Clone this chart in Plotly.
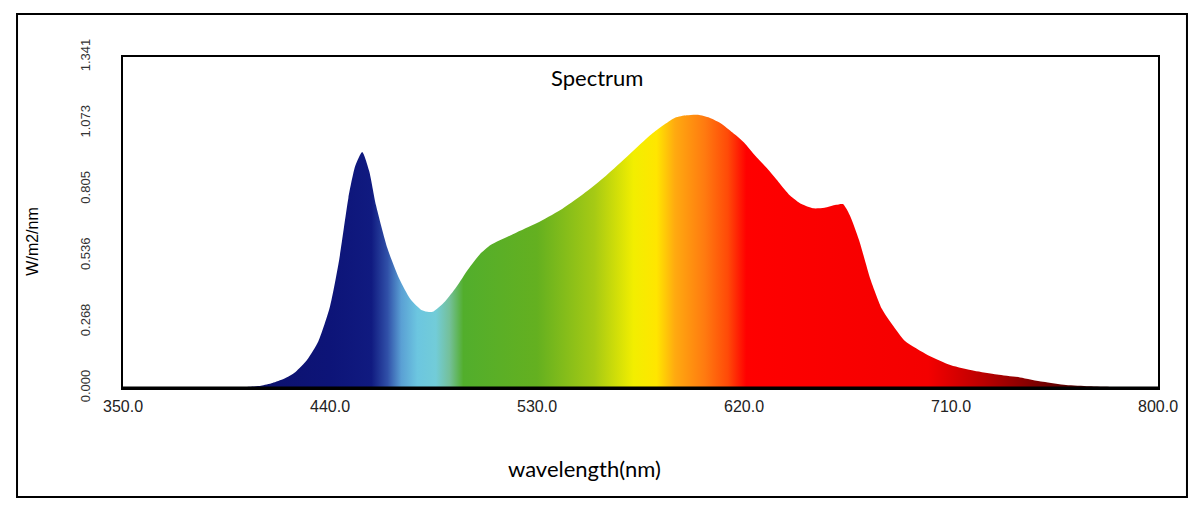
import plotly.graph_objects as go

# Spectrum data
wavelength = [350, 380, 400, 405, 410, 415, 420, 425, 430, 435, 440, 444, 448, 451, 454,
              457, 460, 465, 470, 475, 480, 483, 485, 490, 495, 500, 505, 510, 520, 530,
              540, 550, 560, 570, 580, 590, 595, 600, 605, 610, 615, 620, 625, 630, 635,
              640, 645, 650, 655, 660, 663, 666, 670, 675, 680, 685, 690, 700, 710, 720,
              730, 740, 750, 760, 770, 780, 790, 800]
irradiance = [0.0, 0.0, 0.002, 0.005, 0.009, 0.02, 0.037, 0.065, 0.113, 0.19, 0.33, 0.52, 0.77, 0.90, 0.956,
              0.88, 0.74, 0.565, 0.445, 0.36, 0.315, 0.308, 0.31, 0.35, 0.41, 0.48, 0.54, 0.58, 0.625, 0.668,
              0.72, 0.785, 0.86, 0.945, 1.03, 1.095, 1.105, 1.107, 1.095, 1.072, 1.035, 0.995, 0.94, 0.89, 0.835,
              0.78, 0.745, 0.728, 0.730, 0.742, 0.745, 0.70, 0.60, 0.44, 0.32, 0.25, 0.19, 0.133, 0.092, 0.07,
              0.055, 0.043, 0.025, 0.012, 0.007, 0.004, 0.002, 0.001]

# colour of the fill at given wavelengths
color_wl = [350, 440, 458, 465, 471, 478, 486, 492, 498, 530, 555, 572, 582, 590, 603, 613, 621, 700, 725, 760, 800]
color_hex = ["#0c0c5a", "#0d1478", "#101a80", "#3050a8", "#5aa0d4", "#6cc6e0", "#72ccd8", "#74c09a",
             "#52ae2c", "#64b020", "#a6ca14", "#f2ee00", "#ffe600", "#ffaa10", "#ff7a10", "#ff4a08",
             "#ff0000", "#f40000", "#b80000", "#5a0000", "#200000"]

y_ticks = [0.0, 0.268, 0.536, 0.805, 1.073, 1.341]
x_ticks = [350, 440, 530, 620, 710, 800]

lo, hi = wavelength[0], wavelength[-1]
colorscale = [[(w - lo) / (hi - lo), c] for w, c in zip(color_wl, color_hex)]

fig = go.Figure()
fig.add_trace(go.Scatter(x=wavelength, y=irradiance, mode="lines",
                         line=dict(width=0, color="rgba(0,0,0,0)", shape="spline", smoothing=0.6),
                         fill="tozeroy",
                         fillgradient=dict(type="horizontal", colorscale=colorscale, start=lo, stop=hi),
                         showlegend=False, hoverinfo="x+y"))

fig.update_xaxes(range=[350, 800], tickvals=x_ticks, ticktext=[f"{v:.1f}" for v in x_ticks],
                 showgrid=False, zeroline=False, showline=True, mirror=True,
                 linecolor="black", linewidth=2, ticks="", ticklabelstandoff=3,
                 tickfont=dict(family="Liberation Sans", size=16, color="#222"))
fig.update_yaxes(range=[0, 1.341], tickvals=y_ticks, ticktext=[f"{v:.3f}" for v in y_ticks],
                 tickangle=-90, showgrid=False, zeroline=False, showline=True, mirror=True,
                 linecolor="black", linewidth=2, ticks="", ticklabelstandoff=26,
                 tickfont=dict(family="Liberation Sans", size=13, color="#333"))

# page body has an 8px margin, so the figure is kept 8px smaller than the window
fig.update_layout(width=1193, height=506, margin=dict(l=115, r=43, t=49, b=126),
                  plot_bgcolor="white", paper_bgcolor="white")

# outer frame round the whole picture
fig.add_shape(type="rect", xref="paper", yref="paper", x0=-0.1024, x1=1.028, y0=-0.329, y1=1.130,
              line=dict(color="black", width=2), fillcolor="rgba(0,0,0,0)", layer="below")
# thicker bottom axis
fig.add_shape(type="line", xref="paper", yref="paper", x0=0, x1=1, y0=0, y1=0,
              line=dict(color="black", width=3))

fig.add_annotation(text="Spectrum", xref="paper", yref="paper", x=0.458, y=0.937,
                   xanchor="center", yanchor="middle",
                   showarrow=False, font=dict(family="Lato", size=22, color="black"))
fig.add_annotation(text="wavelength(nm)", xref="paper", yref="paper", x=0.446, y=-0.242,
                   xanchor="center", yanchor="middle",
                   showarrow=False, font=dict(family="Lato", size=22, color="black"))
fig.add_annotation(text="W/m2/nm", xref="paper", yref="paper", x=-0.087, y=0.442, textangle=-90,
                   xanchor="center", yanchor="middle",
                   showarrow=False, font=dict(family="Liberation Sans", size=16, color="black"))

fig.write_html("out.html")
